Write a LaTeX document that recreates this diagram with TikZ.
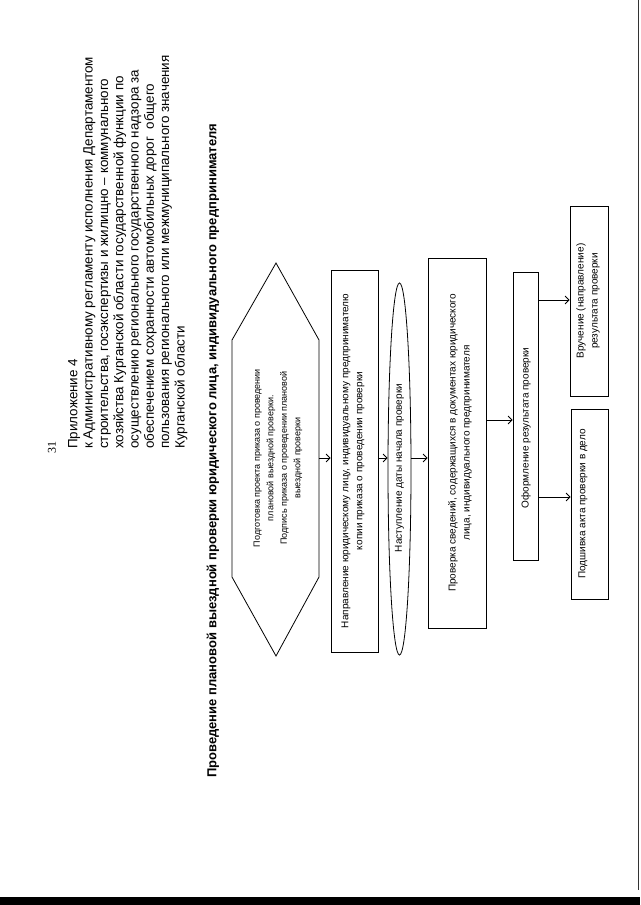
\documentclass[tikz,border=0pt]{standalone}
\usepackage{fontspec}
\setmainfont{Liberation Sans}
\newfontfamily\pagenumfont{Liberation Serif}
\usetikzlibrary{arrows.meta,shapes.geometric}
\begin{document}
\begin{tikzpicture}[x=1pt,y=-1pt,
  box/.style={draw,line width=0.8pt,inner sep=0pt},
  lbl/.style={rotate=90,align=center,inner sep=0pt,font=\fontsize{10}{14}\selectfont},
  hexlbl/.style={rotate=90,align=center,inner sep=0pt,font=\fontsize{9}{13.5}\selectfont},
  arr/.style={-{Straight Barb[length=4pt,width=8pt]},line width=0.8pt}
]
\useasboundingbox (0,0) rectangle (640,905);
\fill[white] (0,0) rectangle (640,905);
% scan artefacts
\fill[black] (0,897) rectangle (640,905);
\draw[line width=0.8pt,black!80] (638.5,0) -- (638.5,890);

% page number and header
\node[rotate=90,inner sep=0pt,font=\pagenumfont\fontsize{12}{14}\selectfont] (pnum) at (52,447) {31};
\node[rotate=90,anchor=north west,align=left,inner sep=0pt,font=\fontsize{13.4}{15.3}\selectfont] (head) at (68,449) {Приложение 4\\
к Административному регламенту исполнения Департаментом\\
строительства, госэкспертизы и жилищно – коммунального\\
хозяйства Курганской области государственной функции по\\
осуществлению регионального государственного надзора за\\
обеспечением сохранности автомобильных дорог \ общего\\
пользования регионального или межмуниципального значения\\
Курганской области};

% title
\node[rotate=90,anchor=west,inner sep=0pt,font=\bfseries\fontsize{13}{15}\selectfont] (title) at (213,778) {Проведение плановой выездной проверки юридического лица, индивидуального предпринимателя};

% hexagon
\draw[line width=0.8pt] (276,263) -- (319,340) -- (319,577) -- (276,656) -- (232,577) -- (232,340) -- cycle;
\node[hexlbl] (hex) at (278,458) {Подготовка проекта приказа о проведении\\плановой выездной проверки.\\Подпись приказа о проведении плановой\\выездной проверки};
\coordinate (hexR) at (319,458);

% box 2
\node[box,minimum width=47pt,minimum height=382pt] (b2) at (354.5,461) {};
\node[lbl] (t2) at (353,461) {Направление юридическому лицу, индивидуальному предпринимателю\\копии приказа о проведении проверки};

% ellipse
\node[draw,ellipse,line width=0.8pt,inner sep=0pt,minimum width=23pt,minimum height=372pt] (ell) at (399.5,469) {};
\node[lbl] (t3) at (399.5,468) {Наступление даты начала проверки};

% box 4
\node[box,minimum width=58pt,minimum height=370pt] (b4) at (457,443) {};
\node[lbl] (t4) at (460,443) {Проверка сведений, содержащихся в документах юридического\\лица, индивидуального предпринимателя};

% box 5
\node[box,minimum width=25pt,minimum height=288pt] (b5) at (525.5,416) {};
\node[lbl] (t5) at (526,428) {Оформление результата проверки};

% box 6 / 7
\node[box,minimum width=38pt,minimum height=190pt] (b6) at (589,301) {};
\node[lbl] (t6) at (588,301) {Вручение (направление)\\результата проверки};
\node[box,minimum width=37pt,minimum height=190pt] (b7) at (589.5,504) {};
\node[lbl] (t7) at (583,504) {Подшивка акта проверки в дело};

% arrows
\draw[arr] (hexR) -- (b2.west |- hexR);
\draw[arr] (b2.east |- hexR) -- (ell.west |- hexR);
\draw[arr] (ell.east |- hexR) -- (b4.west |- hexR);
\draw[arr] (b4.east |- 0,420) -- (b5.west |- 0,420);
\draw[arr] (b5.east |- 0,300) -- (b6.west |- 0,300);
\draw[arr] (b5.east |- 0,497) -- (b7.west |- 0,497);
\end{tikzpicture}
\end{document}
